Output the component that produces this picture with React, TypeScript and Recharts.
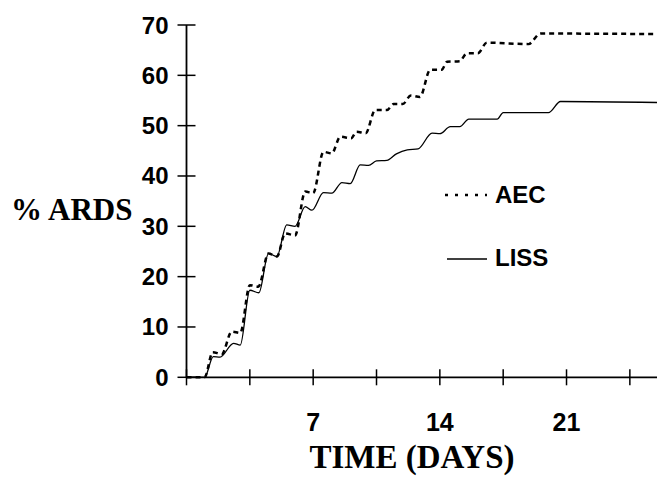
import React from "react"
import { LineChart, Line, XAxis, YAxis } from "recharts"

// cumulative % ARDS by day
const aecDays = [0, 1.0, 1.45, 1.95, 2.5, 2.97, 3.5, 3.97, 4.53, 5.0, 5.45, 6.0, 6.56, 7.0, 7.57, 8.03, 8.5, 9.1, 9.4, 9.9, 10.43, 11.07, 11.45, 11.95, 12.4, 12.9, 13.47, 14.1, 14.4, 15.1, 15.5, 16.1, 16.6, 18.9, 19.56, 26]
const aecPct = [0, 0, 5.0, 4.6, 9.1, 8.8, 18.3, 18.0, 24.6, 24.0, 28.6, 28.2, 36.9, 36.6, 44.8, 44.5, 47.8, 47.5, 48.8, 48.5, 53.1, 53.1, 54.3, 54.3, 56.0, 55.7, 61.1, 61.1, 62.7, 62.8, 64.4, 64.4, 66.5, 66.2, 68.3, 68.2]

const lissDays = [0, 1.0, 1.48, 1.85, 2.6, 2.97, 3.5, 4.0, 4.53, 4.99, 5.54, 6.0, 6.56, 6.93, 7.57, 8.03, 8.59, 9.05, 9.6, 10.06, 10.5, 11.07, 11.6, 12.2, 12.8, 13.57, 14.0, 14.58, 15.1, 15.6, 17.17, 17.5, 20.0, 20.67, 26]
const lissPct = [0, 0, 4.1, 4.0, 6.75, 6.4, 17.3, 16.8, 24.6, 24.0, 30.3, 30.0, 33.9, 33.2, 36.7, 36.6, 38.7, 38.5, 42.2, 42.1, 43.0, 43.1, 44.4, 45.2, 45.4, 48.5, 48.4, 49.8, 49.8, 51.3, 51.3, 52.6, 52.6, 54.8, 54.6]

const xTicks = [0, 3.5, 7, 10.5, 14, 17.5, 21, 24.5]
const xLabels = [7, 14, 21]
const yTicks = [0, 10, 20, 30, 40, 50, 60, 70]

const aecData = aecDays.map((d, i) => ({ day: d, pct: aecPct[i] }))
const lissData = lissDays.map((d, i) => ({ day: d, pct: lissPct[i] }))

const sans = "'Liberation Sans', Arial, sans-serif"
const serif = "'Liberation Serif', 'Times New Roman', serif"

function XTick(props: any) {
  const { x, y, payload } = props
  return (
    <g>
      <line x1={x} x2={x} y1={y - 8} y2={y + 8} stroke="#000" strokeWidth={1.5} />
      {xLabels.includes(payload.value) && (
        <text x={x} y={y + 54} textAnchor="middle" fontFamily={sans} fontWeight="bold" fontSize={25} fill="#000">
          {payload.value}
        </text>
      )}
    </g>
  )
}

function YTick(props: any) {
  const { x, y, payload } = props
  return (
    <g>
      <line x1={x - 9} x2={x + 9} y1={y} y2={y} stroke="#000" strokeWidth={1.5} />
      <text x={x - 18} y={y + 8.5} textAnchor="end" fontFamily={sans} fontWeight="bold" fontSize={24} fill="#000">
        {payload.value}
      </text>
    </g>
  )
}

function LegendBox() {
  return (
    <svg width={130} height={100}>
      <line x1={0} x2={42} y1={17} y2={17} stroke="#000" strokeWidth={2.5} strokeDasharray="3 7" />
      <text x={50} y={25} fontFamily={sans} fontWeight="bold" fontSize={24} fill="#000">AEC</text>
      <line x1={2} x2={42} y1={81} y2={81} stroke="#000" strokeWidth={1.3} />
      <text x={50} y={88} fontFamily={sans} fontWeight="bold" fontSize={24} fill="#000">LISS</text>
    </svg>
  )
}

export default function App() {
  return (
    <div style={{ position: "absolute", left: 0, top: 0, width: 657, height: 480 }}>
      <LineChart width={657} height={480} margin={{ top: 25, right: 0, left: 0, bottom: 0 }}>
        <XAxis
          dataKey="day"
          type="number"
          domain={[0, 26]}
          ticks={xTicks}
          interval={0}
          height={102.7}
          tickSize={0}
          tickMargin={0}
          tickLine={false}
          tick={<XTick />}
          axisLine={{ stroke: "#000", strokeWidth: 1.8 }}
          allowDuplicatedCategory={false}
          label={() => (
            <text x={412} y={468} textAnchor="middle" fontFamily={serif} fontWeight="bold" fontSize={33} fill="#000">
              TIME (DAYS)
            </text>
          )}
        />
        <YAxis
          type="number"
          domain={[0, 70]}
          ticks={yTicks}
          interval={0}
          width={186.5}
          tickSize={0}
          tickMargin={0}
          tickLine={false}
          tick={<YTick />}
          axisLine={{ stroke: "#000", strokeWidth: 1.8 }}
          label={() => (
            <text x={11} y={220} fontFamily={serif} fontWeight="bold" fontSize={31} fill="#000">
              % ARDS
            </text>
          )}
        />
        <Line
          data={aecData}
          dataKey="pct"
          name="AEC"
          type="monotone"
          stroke="#000"
          strokeWidth={2.5}
          strokeDasharray="5 4"
          dot={false}
          activeDot={false}
          isAnimationActive={false}
        />
        <Line
          data={lissData}
          dataKey="pct"
          name="LISS"
          type="monotone"
          stroke="#000"
          strokeWidth={1.3}
          dot={false}
          activeDot={false}
          isAnimationActive={false}
        />
      </LineChart>
      <div style={{ position: "absolute", left: 445, top: 178 }}>
        <LegendBox />
      </div>
    </div>
  )
}
